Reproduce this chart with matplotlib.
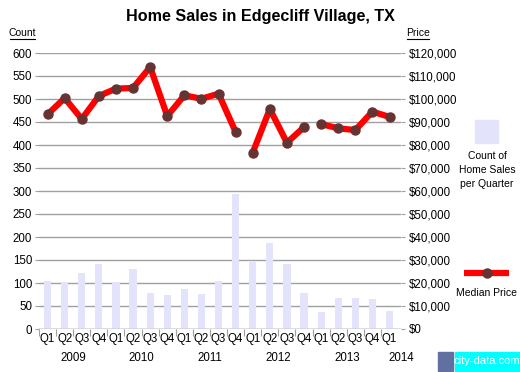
import matplotlib
matplotlib.use("Agg")
import matplotlib.pyplot as plt
from matplotlib.lines import Line2D
from matplotlib.patches import Rectangle

plt.rcParams['font.family'] = ['Liberation Sans', 'DejaVu Sans']

quarters = ["Q1", "Q2", "Q3", "Q4"] * 5 + ["Q1"]
years = ["2009", "2010", "2011", "2012", "2013", "2014"]
year_centers = [1.5, 5.5, 9.5, 13.5, 17.5, 20.7]
counts = [105, 102, 122, 141, 102, 130, 78, 74, 87, 76, 104, 294,
          146, 188, 141, 78, 37, 67, 67, 65, 39]
prices = [93300, 100400, 91300, 101300, 104500, 104800, 113900, 92600,
          101600, 100100, 102300, 85700, 76700, 95650, 81000, 87800,
          89100, 87250, 86500, 94500, 92200]
segment_starts = [0, 12, 16, 21]
count_ticks = list(range(0, 601, 50))
price_ticks = list(range(0, 120001, 10000))

W, H = 520, 372
fig = plt.figure(figsize=(W / 100, H / 100), dpi=100)
x0, x1, y0, y1 = 39, 401.5, 329, 53
ax = fig.add_axes([x0 / W, 1 - y0 / H, (x1 - x0) / W, (y0 - y1) / H])
ax2 = ax.twinx()

xs = list(range(len(counts)))
ax.bar(xs, counts, width=0.42, color="#e3e3fb", zorder=2)
ax.set_xlim(-0.5, 20.7)
ax.set_ylim(0, 600)
ax.set_yticks(count_ticks)
ax.set_yticklabels([str(v) for v in count_ticks], fontsize=8.3)
ax.grid(axis="y", color="#a0a0a0", lw=1, zorder=1)
ax.set_axisbelow(True)
for s in ax.spines.values():
    s.set_visible(False)
for s in ax2.spines.values():
    s.set_visible(False)
ax.tick_params(axis="y", length=3, color="#a0a0a0", pad=2)
ax.set_xticks([i - 0.5 for i in range(len(counts))])
ax.set_xticklabels([])
ax.tick_params(axis="x", length=5, color="#a0a0a0")
ax.axhline(0, color="#a0a0a0", lw=1, zorder=3)

for i, q in enumerate(quarters):
    ax.text(i, -0.036, q, transform=ax.get_xaxis_transform(), ha="center",
            va="center", fontsize=8.3)
for yc, yr in zip(year_centers, years):
    ax.text(yc, -0.105, yr, transform=ax.get_xaxis_transform(), ha="center",
            va="center", fontsize=8.3)

ax2.set_ylim(0, 120000)
ax2.set_yticks(price_ticks)
ax2.set_yticklabels(["${:,}".format(v) for v in price_ticks], fontsize=8.3)
ax2.tick_params(axis="y", length=3, color="#a0a0a0", pad=2)
for a, b in zip(segment_starts[:-1], segment_starts[1:]):
    ax2.plot(xs[a:b], prices[a:b], color="#ff0000", lw=4.5,
             solid_capstyle="butt", zorder=4, clip_on=False)
    ax2.plot(xs[a:b], prices[a:b], "o", color="#663333", ms=6.5,
             zorder=5, clip_on=False)

fig.text(260 / W, 1 - 17 / H, "Home Sales in Edgecliff Village, TX",
         ha="center", va="center", fontsize=11.6, fontweight="bold")
fig.text(22 / W, 1 - 33 / H, "Count", ha="center", va="center", fontsize=7.5)
fig.add_artist(Line2D([10 / W, 35 / W], [1 - 39 / H, 1 - 39 / H],
                      color="black", lw=0.8))
fig.text(418 / W, 1 - 33 / H, "Price", ha="center", va="center", fontsize=7.5)
fig.add_artist(Line2D([407 / W, 429 / W], [1 - 39 / H, 1 - 39 / H],
                      color="black", lw=0.8))

# legend
fig.add_artist(Rectangle((475 / W, 1 - 143 / H), 23 / W, 23 / H,
                         transform=fig.transFigure, color="#e3e3fb"))
fig.text(487 / W, 1 - 170 / H, "Count of\nHome Sales\nper Quarter",
         ha="center", va="center", fontsize=7.5, linespacing=1.55)
fig.add_artist(Line2D([464 / W, 509 / W], [1 - 272.5 / H, 1 - 272.5 / H],
                      color="#ff0000", lw=4.5, solid_capstyle="butt"))
fig.add_artist(Line2D([486.5 / W], [1 - 272.5 / H], marker="o",
                      color="#663333", ms=6.5))
fig.text(486.5 / W, 1 - 293 / H, "Median Price", ha="center", va="center",
         fontsize=7.5)

# watermark
fig.add_artist(Rectangle((438 / W, 1 - 371 / H), 15 / W, 19 / H,
                         transform=fig.transFigure, color="#6070a0"))
fig.add_artist(Rectangle((455 / W, 1 - 371 / H), 65 / W, 19 / H,
                         transform=fig.transFigure, color="#00ffff"))
fig.text(487 / W, 1 - 361.5 / H, "city-data.com", ha="center", va="center",
         fontsize=8, color="white")

fig.savefig("out.png", dpi=100)
